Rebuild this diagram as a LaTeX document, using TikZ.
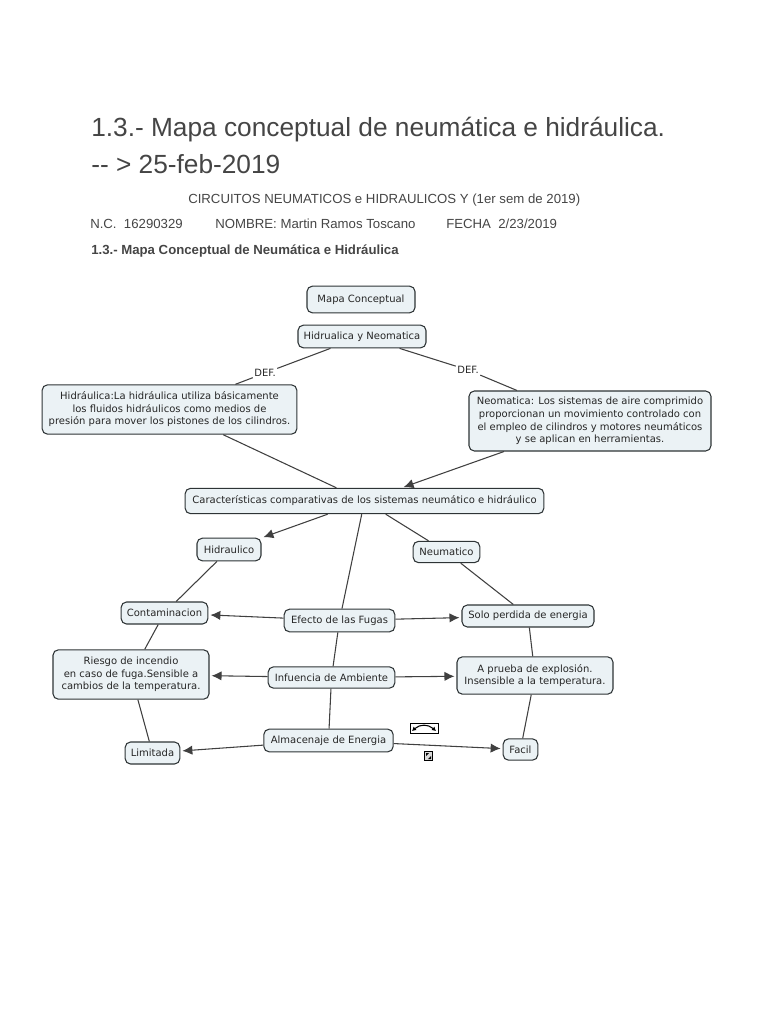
\documentclass[tikz,border=0pt]{standalone}
\usepackage{fontspec}
\setmainfont{Liberation Sans}
\newfontfamily\mapfont{DejaVu Sans}
\usetikzlibrary{arrows.meta}
\definecolor{boxfill}{HTML}{EBF2F5}
\definecolor{boxline}{HTML}{2E3436}
\definecolor{headtext}{HTML}{454545}
\tikzset{
	mapbox/.style={draw=boxline,fill=boxfill,line width=0.8pt,rounded corners=4pt,inner sep=0pt,align=center,font=\mapfont\fontsize{7.5}{9.4}\selectfont,text=black!85},
	deflabel/.style={inner sep=1pt,font=\mapfont\fontsize{7.5}{8}\selectfont,text=black!85},
	head/.style={anchor=base west,inner sep=0pt,text=headtext},
	link/.style={draw=black!75,line width=0.8pt},
	tiplink/.style={link,->,shorten >=1.5pt},
}
\begin{document}
\begin{tikzpicture}[>={Latex[length=7.5pt,width=7pt]},x=0.75pt,y=-0.75pt]
	\useasboundingbox (0,0) rectangle (768,1024);
	% page heading
	\node[head,font=\fontsize{19.7}{24}\selectfont] (titleone) at (91,137) {1.3.- Mapa conceptual de neumática e hidráulica.};
	\node[head,font=\fontsize{19.7}{24}\selectfont] (titletwo) at (91,173) {-{}- > 25-feb-2019};
	\node[head,font=\fontsize{9.9}{12}\selectfont] (course) at (188,203) {CIRCUITOS NEUMATICOS e HIDRAULICOS Y (1er sem de 2019)};
	\node[head,font=\fontsize{9.9}{12}\selectfont] (ncnum) at (90,228) {N.C.\ \ 16290329};
	\node[head,font=\fontsize{9.9}{12}\selectfont] (nombre) at (215,228) {NOMBRE: Martin Ramos Toscano};
	\node[head,font=\fontsize{9.9}{12}\selectfont] (fecha) at (446,228) {FECHA\ \ 2/23/2019};
	\node[head,font=\bfseries\fontsize{9.9}{12}\selectfont] (subtitle) at (91,254) {1.3.- Mapa Conceptual de Neumática e Hidráulica};
	% concept boxes
	\node[mapbox,minimum width=81pt,minimum height=20pt] (mapa) at (361,299.5) {Mapa Conceptual};
	\node[mapbox,minimum width=96pt,minimum height=17pt] (hyn) at (362,336.5) {Hidrualica y Neomatica};
	\node[mapbox,minimum width=191pt,minimum height=37pt] (hidraulica) at (169.5,409.5) {Hidráulica:La hidráulica utiliza básicamente\\los fluidos hidráulicos como medios de\\presión para mover los pistones de los cilindros.};
	\node[mapbox,minimum width=181.5pt,minimum height=45pt] (neomatica) at (590,421) {Neomatica: Los sistemas de aire comprimido\\proporcionan un movimiento controlado con\\el empleo de cilindros y motores neumáticos\\y se aplican en herramientas.};
	\node[mapbox,minimum width=269pt,minimum height=19pt] (carac) at (364.5,501) {Características comparativas de los sistemas neumático e hidráulico};
	\node[mapbox,minimum width=48pt,minimum height=17pt] (hidraulico) at (229,549.5) {Hidraulico};
	\node[mapbox,minimum width=50pt,minimum height=16pt] (neumatico) at (446.5,552) {Neumatico};
	\node[mapbox,minimum width=65pt,minimum height=16.5pt] (contam) at (164.5,613) {Contaminacion};
	\node[mapbox,minimum width=83pt,minimum height=17pt] (efecto) at (339.5,620.5) {Efecto de las Fugas};
	\node[mapbox,minimum width=99pt,minimum height=16.5pt] (solo) at (528,616) {Solo perdida de energia};
	\node[mapbox,minimum width=117pt,minimum height=37pt] (riesgo) at (131,674.5) {Riesgo de incendio\\en caso de fuga.Sensible a\\cambios de la temperatura.};
	\node[mapbox,minimum width=95pt,minimum height=16pt] (ambiente) at (331.5,677.5) {Infuencia de Ambiente};
	\node[mapbox,minimum width=117pt,minimum height=28pt] (prueba) at (535,675.5) {A prueba de explosión.\\Insensible a la temperatura.};
	\node[mapbox,minimum width=41pt,minimum height=16.5pt] (limitada) at (152.5,753) {Limitada};
	\node[mapbox,minimum width=97pt,minimum height=17pt] (almacen) at (328.5,740.5) {Almacenaje de Energia};
	\node[mapbox,minimum width=26pt,minimum height=16pt] (facil) at (520.5,749.5) {Facil};
	% link labels
	\node[deflabel] (defleft) at (265,373) {DEF.};
	\node[deflabel] (defright) at (468,370) {DEF.};
	% connectors
	\draw[link] (hyn) -- (defleft);
	\draw[link] (defleft) -- (hidraulica);
	\draw[link] (hyn) -- (defright);
	\draw[link] (defright) -- (neomatica);
	\draw[link] (hidraulica) -- (carac);
	\draw[tiplink] (neomatica) -- (carac);
	\draw[tiplink] (carac) -- (hidraulico);
	\draw[link] (carac) -- (neumatico);
	\draw[link] (carac) -- (efecto);
	\draw[link] (hidraulico) -- (contam);
	\draw[link] (neumatico) -- (solo);
	\draw[link] (contam) -- (riesgo);
	\draw[link] (riesgo) -- (limitada);
	\draw[link] (solo) -- (prueba);
	\draw[link] (prueba) -- (facil);
	\draw[link] (efecto) -- (ambiente);
	\draw[link] (ambiente) -- (almacen);
	\draw[tiplink] (efecto) -- (contam);
	\draw[tiplink] (efecto) -- (solo);
	\draw[tiplink] (ambiente) -- (riesgo);
	\draw[tiplink] (ambiente) -- (prueba);
	\draw[tiplink] (almacen) -- (limitada);
	\draw[tiplink] (almacen) -- (facil);
	% small editor icons
	\draw[black,line width=0.6pt] (410,723) rectangle (438,733);
	\draw[black,line width=0.8pt,<->,>={Latex[length=3pt,width=3.5pt]}] (412,731) .. controls (420,724) and (428,724) .. (436,731);
	\draw[black,fill=black!15,line width=0.7pt] (424.5,751.5) rectangle (432.5,760.5);
	\fill[black] (426,753) -- (429,753) -- (426,756) -- cycle;
	\fill[black] (431,759) -- (428,759) -- (431,756) -- cycle;
\end{tikzpicture}
\end{document}
